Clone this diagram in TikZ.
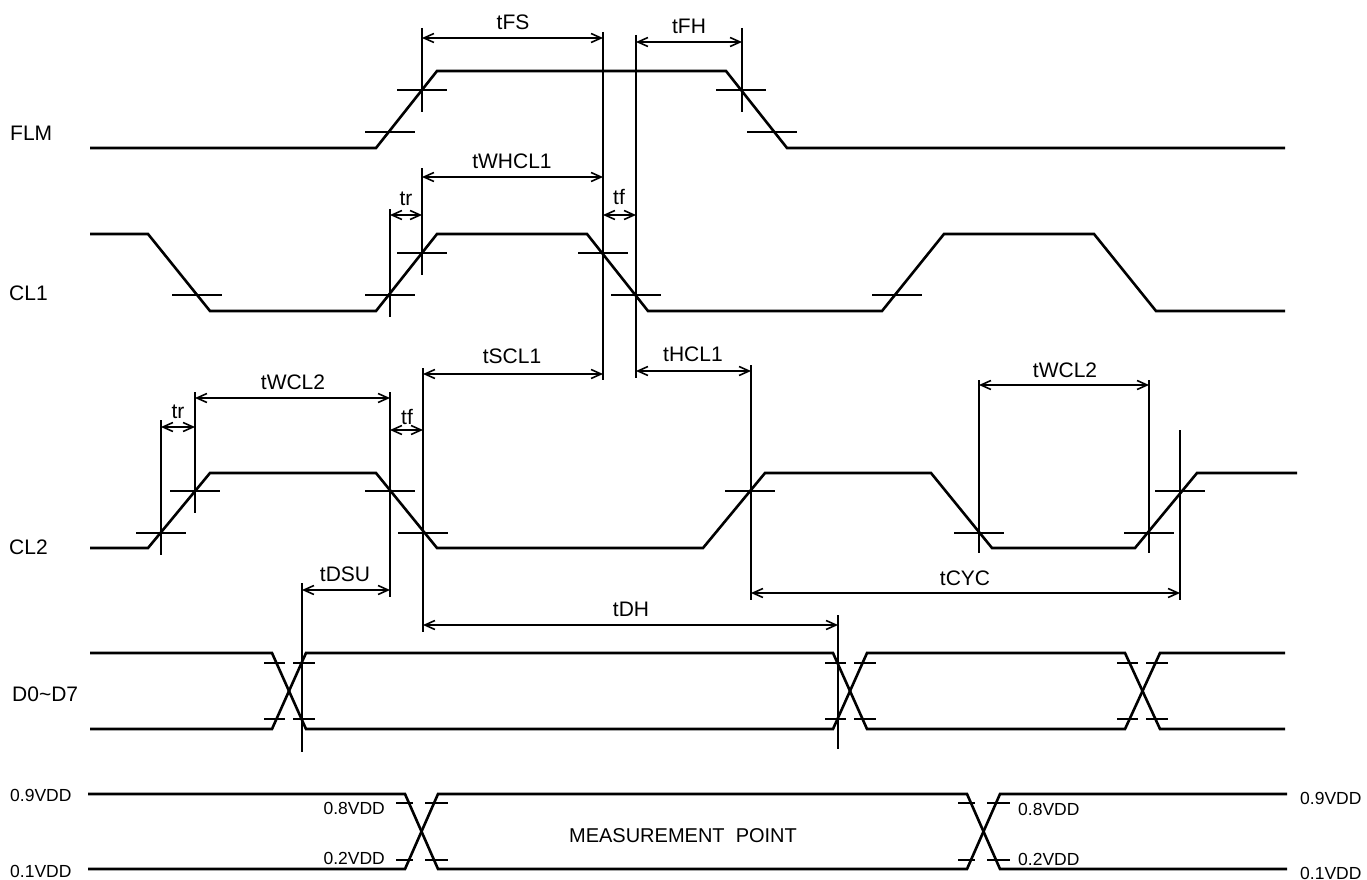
\documentclass[tikz,border=0pt]{standalone}
\usepackage{fontspec}
\setmainfont{Liberation Sans}
\usetikzlibrary{arrows.meta}
\begin{document}
\begin{tikzpicture}[x=1pt,y=-1pt,
  sig/.style={line width=2.6pt, line join=miter},
  thinl/.style={line width=1.5pt},
  dim/.style={line width=1.6pt, {Straight Barb[length=10pt,width=9pt]}-{Straight Barb[length=10pt,width=9pt]}},
  lbl/.style={font=\fontsize{21}{25}\selectfont, inner sep=0pt},
  sml/.style={font=\fontsize{17.5}{20}\selectfont, inner sep=0pt}]
\useasboundingbox (0,0) rectangle (1367,880);

% signal names
\node[lbl, anchor=west] (nFLM) at (10,133) {FLM};
\node[lbl, anchor=west] (nCL1) at (9,293) {CL1};
\node[lbl, anchor=west] (nCL2) at (9,547) {CL2};
\node[lbl, anchor=west] (nD) at (12,694) {D0\char`\~D7};
\node[sml, anchor=west] (n9L) at (10,795) {0.9VDD};
\node[sml, anchor=west] (n1L) at (10,871) {0.1VDD};
\node[sml, anchor=west] (n9R) at (1300,798) {0.9VDD};
\node[sml, anchor=west] (n1R) at (1300,873) {0.1VDD};
\node[sml, anchor=east] (n8a) at (385,808) {0.8VDD};
\node[sml, anchor=east] (n2a) at (385,858) {0.2VDD};
\node[sml, anchor=west] (n8b) at (1018,809) {0.8VDD};
\node[sml, anchor=west] (n2b) at (1018,859) {0.2VDD};
\node[lbl, font=\fontsize{20}{24}\selectfont] (meas) at (683,836) {MEASUREMENT\ \ POINT};

% waveforms
\draw[sig] (90,148) -- (376,148) -- (437,71) -- (726,71) -- (787,148) -- (1285,148);
\draw[sig] (90,234) -- (148,234) -- (210,311) -- (376,311) -- (437,234) -- (587,234)
  -- (648,311) -- (882,311) -- (944,234) -- (1094,234) -- (1156,311) -- (1285,311);
\draw[sig] (90,548) -- (148,548) -- (210,473) -- (376,473) -- (437,548) -- (703,548)
  -- (765,473) -- (931,473) -- (992,548) -- (1135,548) -- (1197,473) -- (1297,473);
\draw[sig] (90,653) -- (272,653) -- (306,729) -- (833,729) -- (867,653) -- (1125,653) -- (1160,729) -- (1285,729);
\draw[sig] (90,729) -- (272,729) -- (306,653) -- (833,653) -- (867,729) -- (1125,729) -- (1160,653) -- (1285,653);
\draw[sig] (88,794) -- (405,794) -- (438,869) -- (967,869) -- (1000,794) -- (1287,794);
\draw[sig] (88,869) -- (405,869) -- (438,794) -- (967,794) -- (1000,869) -- (1287,869);

% crossing ticks on clock edges
\foreach \x/\y in {390/132, 422/90, 741/90, 772/132,
                   197/295, 390/295, 422/253, 603/253, 636/295, 897/295,
                   161/533, 195/491, 390/491, 423/533, 750/491, 979/533, 1149/533, 1180/491}
  \draw[thinl] (\x-25,\y) -- (\x+25,\y);
% crossing ticks on data / level edges
\foreach \c in {289, 850, 1142}
  \foreach \y in {663, 719}
    { \draw[thinl] (\c-25,\y) -- (\c-4,\y); \draw[thinl] (\c+4,\y) -- (\c+26,\y); }
\foreach \c in {421, 983}
  \foreach \y in {803, 860}
    { \draw[thinl] (\c-25,\y) -- (\c-8,\y); \draw[thinl] (\c+4,\y) -- (\c+27,\y); }

% extension lines
\draw[thinl] (422,28) -- (422,112);
\draw[thinl] (422,168) -- (422,275);
\draw[thinl] (603,32) -- (603,380);
\draw[thinl] (636,35) -- (636,378);
\draw[thinl] (742,28) -- (742,112);
\draw[thinl] (390,209) -- (390,317);
\draw[thinl] (161,420) -- (161,555);
\draw[thinl] (195,392) -- (195,513);
\draw[thinl] (390,392) -- (390,597);
\draw[thinl] (423,368) -- (423,632);
\draw[thinl] (751,365) -- (751,600);
\draw[thinl] (979,380) -- (979,553);
\draw[thinl] (1149,380) -- (1149,553);
\draw[thinl] (1180,430) -- (1180,600);
\draw[thinl] (302,583) -- (302,752);
\draw[thinl] (838,615) -- (838,749);

% dimension arrows
\coordinate (fsA) at (422,38);  \coordinate (fsB) at (603,38);
\coordinate (fhA) at (636,42);  \coordinate (fhB) at (742,42);
\coordinate (whA) at (422,177); \coordinate (whB) at (603,177);
\coordinate (r1A) at (390,215); \coordinate (r1B) at (422,215);
\coordinate (f1A) at (603,215); \coordinate (f1B) at (636,215);
\coordinate (scA) at (423,374); \coordinate (scB) at (603,374);
\coordinate (hcA) at (636,371); \coordinate (hcB) at (751,371);
\coordinate (w2A) at (195,398); \coordinate (w2B) at (390,398);
\coordinate (r2A) at (161,427); \coordinate (r2B) at (195,427);
\coordinate (f2A) at (390,430); \coordinate (f2B) at (423,430);
\coordinate (w3A) at (979,385); \coordinate (w3B) at (1149,385);
\coordinate (suA) at (302,590); \coordinate (suB) at (390,590);
\coordinate (dhA) at (423,625); \coordinate (dhB) at (838,625);
\coordinate (cyA) at (751,593); \coordinate (cyB) at (1180,593);
\draw[dim] (fsA) -- (fsB); \draw[dim] (fhA) -- (fhB);
\draw[dim] (whA) -- (whB); \draw[dim] (r1A) -- (r1B);
\draw[dim] (f1A) -- (f1B); \draw[dim] (scA) -- (scB);
\draw[dim] (hcA) -- (hcB); \draw[dim] (w2A) -- (w2B);
\draw[dim] (r2A) -- (r2B); \draw[dim] (f2A) -- (f2B);
\draw[dim] (w3A) -- (w3B); \draw[dim] (suA) -- (suB);
\draw[dim] (dhA) -- (dhB); \draw[dim] (cyA) -- (cyB);

% dimension labels
\node[lbl] (tFS) at (513,22) {tFS};
\node[lbl] (tFH) at (689,26) {tFH};
\node[lbl] (tWHCL1) at (512,161) {tWHCL1};
\node[lbl] (tr1) at (406,199) {tr};
\node[lbl] (tf1) at (619,197) {tf};
\node[lbl] (tSCL1) at (512,356) {tSCL1};
\node[lbl] (tHCL1) at (693,354) {tHCL1};
\node[lbl] (tWCL2a) at (293,382) {tWCL2};
\node[lbl] (tr2) at (178,412) {tr};
\node[lbl] (tf2) at (407,417) {tf};
\node[lbl] (tWCL2b) at (1065,370) {tWCL2};
\node[lbl] (tDSU) at (345,574) {tDSU};
\node[lbl] (tDH) at (631,609) {tDH};
\node[lbl] (tCYC) at (965,578) {tCYC};
\end{tikzpicture}
\end{document}
